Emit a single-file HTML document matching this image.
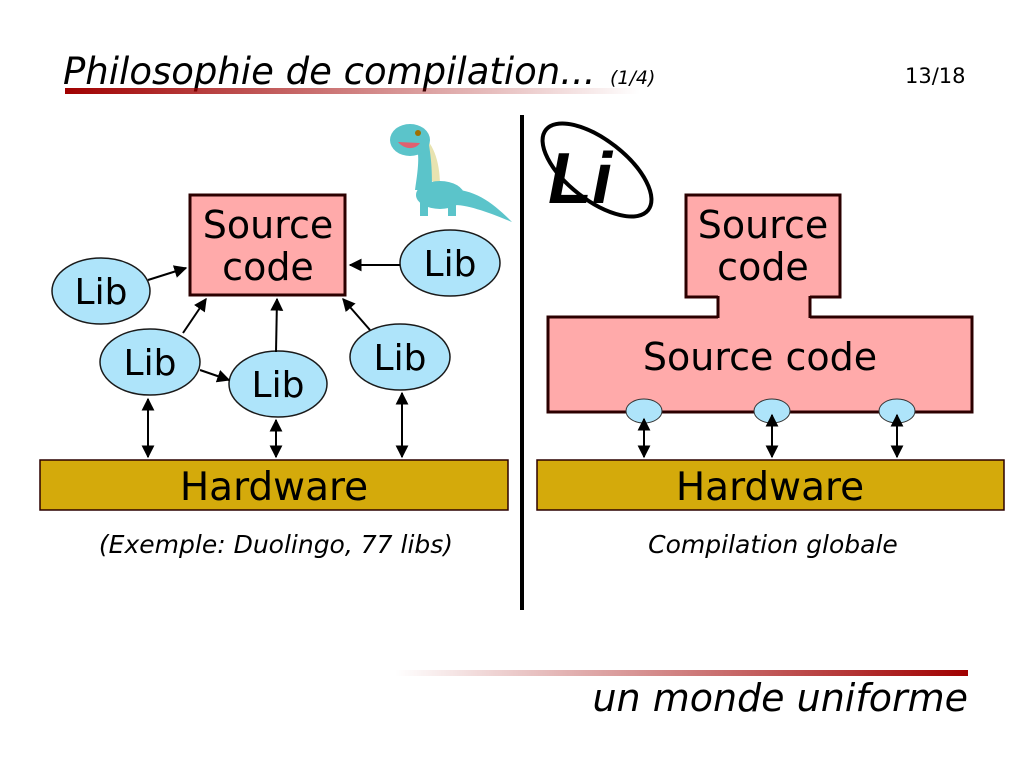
<!DOCTYPE html>
<html><head><meta charset="utf-8"><style>
html,body{margin:0;padding:0;background:#fff;}
svg{display:block;font-family:"DejaVu Sans","Liberation Sans",sans-serif;}
</style></head><body>
<svg width="1024" height="768" viewBox="0 0 1024 768">
<defs>
<linearGradient id="g1" x1="0" x2="1"><stop offset="0" stop-color="#a00000"/><stop offset="1" stop-color="#a00000" stop-opacity="0"/></linearGradient>
<linearGradient id="g2" x1="0" x2="1"><stop offset="0" stop-color="#a00000" stop-opacity="0"/><stop offset="1" stop-color="#a00000"/></linearGradient>
<marker id="ah" viewBox="0 0 10 10" refX="9" refY="5" markerWidth="6.5" markerHeight="6.5" orient="auto-start-reverse"><path d="M0,0L10,5L0,10z" fill="#000"/></marker>
</defs>
<text x="63" y="84" font-size="37" font-style="italic">Philosophie de compilation...</text>
<text x="610" y="84" font-size="19" font-style="italic">(1/4)</text>
<text x="905" y="83" font-size="21">13/18</text>
<rect x="65" y="88" width="575" height="6" fill="url(#g1)"/>
<rect x="395" y="670" width="573" height="6" fill="url(#g2)"/>
<text x="968" y="711" font-size="38" font-style="italic" text-anchor="end">un monde uniforme</text>
<rect x="520" y="115" width="4" height="495" fill="#000"/>

<!-- left -->
<rect x="190" y="195" width="155" height="100" fill="#ffaaaa" stroke="#2b0000" stroke-width="3"/>
<text x="268" y="238" font-size="38" text-anchor="middle">Source</text>
<text x="268" y="280" font-size="38" text-anchor="middle">code</text>
<g fill="#aee4fa" stroke="#1a1a1a" stroke-width="1.5">
<ellipse cx="101" cy="291" rx="49" ry="33"/>
<ellipse cx="450" cy="263" rx="50" ry="33"/>
<ellipse cx="150" cy="362" rx="50" ry="33"/>
<ellipse cx="278" cy="384" rx="49" ry="33"/>
<ellipse cx="400" cy="357" rx="50" ry="33"/>
</g>
<g font-size="36" text-anchor="middle">
<text x="101" y="304">Lib</text>
<text x="450" y="276">Lib</text>
<text x="150" y="375">Lib</text>
<text x="278" y="397">Lib</text>
<text x="400" y="370">Lib</text>
</g>
<g stroke="#000" stroke-width="2" marker-end="url(#ah)">
<line x1="148" y1="280" x2="186" y2="268"/>
<line x1="400" y1="265" x2="350" y2="265"/>
<line x1="183" y1="333" x2="206" y2="299"/>
<line x1="200" y1="370" x2="229" y2="380"/>
<line x1="276" y1="352" x2="277" y2="299"/>
<line x1="370" y1="330" x2="343" y2="299"/>
<line x1="148" y1="399" x2="148" y2="457" marker-start="url(#ah)"/>
<line x1="276" y1="420" x2="276" y2="457" marker-start="url(#ah)"/>
<line x1="402" y1="393" x2="402" y2="457" marker-start="url(#ah)"/>
</g>
<rect x="40" y="460" width="468" height="50" fill="#d4aa0b" stroke="#2b0000" stroke-width="1.5"/>
<text x="274" y="500" font-size="39" text-anchor="middle">Hardware</text>
<text x="276" y="553" font-size="25" font-style="italic" text-anchor="middle">(Exemple: Duolingo, 77 libs)</text>

<!-- dino -->
<g>
<path d="M430,180 C425,160 420,150 410,145 L420,135 C432,140 440,160 440,185 Z" fill="#e8e3b0"/>
<path d="M435,190 C470,185 490,200 512,222 C495,215 470,205 455,205 Z" fill="#5bc4ca"/>
<ellipse cx="440" cy="195" rx="24" ry="14" fill="#5bc4ca"/>
<rect x="420" y="198" width="8" height="18" fill="#5bc4ca"/>
<rect x="448" y="198" width="8" height="18" fill="#5bc4ca"/>
<path d="M415,190 C418,170 420,155 416,145 L428,140 C432,160 432,175 432,190 Z" fill="#5bc4ca"/>
<ellipse cx="410" cy="140" rx="20" ry="16" fill="#5bc4ca"/>
<path d="M398,142 C405,150 415,150 420,143" fill="#e06070"/>
<circle cx="418" cy="133" r="3" fill="#a07000"/>
</g>
<!-- Li logo -->
<ellipse cx="597" cy="170" rx="65" ry="30" transform="rotate(38 597 170)" fill="none" stroke="#000" stroke-width="4"/>
<text x="548" y="203" font-size="72" font-weight="bold" font-style="italic" font-family="Liberation Sans,sans-serif">Li</text>

<!-- right -->
<path d="M718,297 L686,297 L686,195 L840,195 L840,297 L810,297" fill="#ffaaaa" stroke="#2b0000" stroke-width="3"/>
<path d="M718,317 L548,317 L548,412 L972,412 L972,317 L810,317" fill="#ffaaaa" stroke="#2b0000" stroke-width="3"/>
<rect x="719" y="294" width="90" height="26" fill="#ffaaaa"/>
<line x1="718" y1="296" x2="718" y2="318" stroke="#2b0000" stroke-width="3"/>
<line x1="810" y1="296" x2="810" y2="318" stroke="#2b0000" stroke-width="3"/>
<text x="763" y="238" font-size="38" text-anchor="middle">Source</text>
<text x="763" y="280" font-size="38" text-anchor="middle">code</text>
<text x="760" y="370" font-size="38" text-anchor="middle">Source code</text>
<g fill="#aee4fa" stroke="#333" stroke-width="1">
<ellipse cx="644" cy="411" rx="18" ry="12"/>
<ellipse cx="772" cy="411" rx="18" ry="12"/>
<ellipse cx="897" cy="411" rx="18" ry="12"/>
</g>
<g stroke="#000" stroke-width="2" marker-end="url(#ah)">
<line x1="644" y1="419" x2="644" y2="457" marker-start="url(#ah)"/>
<line x1="772" y1="415" x2="772" y2="457" marker-start="url(#ah)"/>
<line x1="897" y1="415" x2="897" y2="457" marker-start="url(#ah)"/>
</g>
<rect x="537" y="460" width="467" height="50" fill="#d4aa0b" stroke="#2b0000" stroke-width="1.5"/>
<text x="770" y="500" font-size="39" text-anchor="middle">Hardware</text>
<text x="773" y="553" font-size="25" font-style="italic" text-anchor="middle">Compilation globale</text>
</svg>
</body></html>
